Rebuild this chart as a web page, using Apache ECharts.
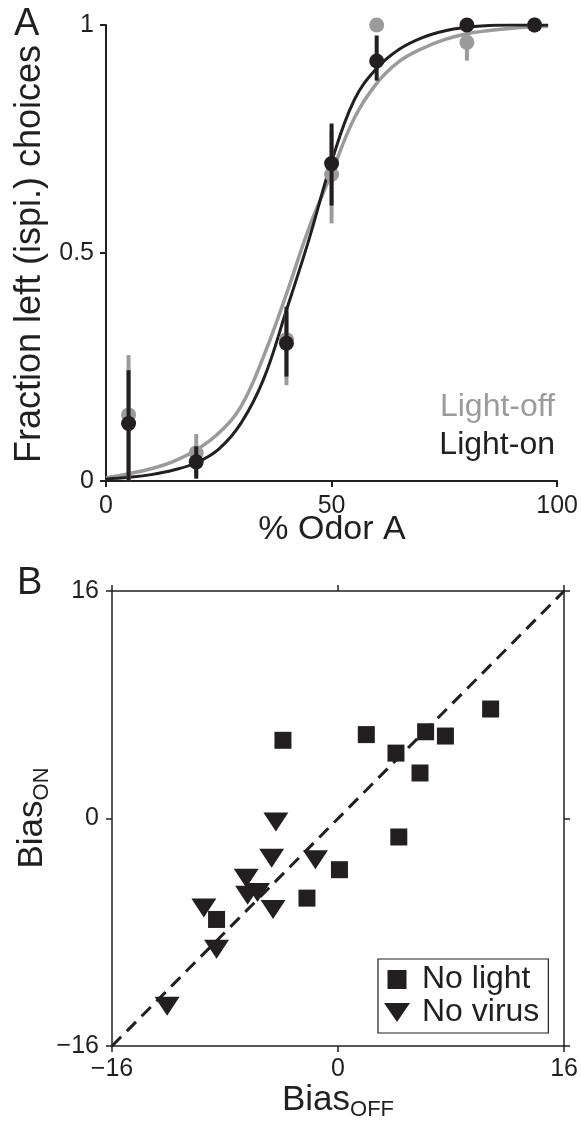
<!DOCTYPE html>
<html>
<head>
<meta charset="utf-8">
<script src="https://cdn.jsdelivr.net/npm/echarts@6/dist/echarts.min.js"></script>
<style>
html,body{margin:0;padding:0;background:#fff;}
#c{width:581px;height:1127px;}
</style>
</head>
<body>
<div id="c"></div>
<script>
// ---------- Panel A data ----------
var odorTicks = [0, 50, 100];
var fracTicks = [0, 0.5, 1];
var odor = [5, 20, 40, 50, 60, 80, 95];
var offMean = [0.145, 0.062, 0.31, 0.672, 1.0, 0.962, 1.0];
var offLow  = [0.0, 0.01, 0.21, 0.565, 1.0, 0.922, 1.0];
var offHigh = [0.276, 0.103, 0.37, 0.77, 1.0, 1.0, 1.0];
var onMean  = [0.126, 0.042, 0.302, 0.696, 0.921, 1.0, 1.0];
var onLow   = [0.0, 0.005, 0.229, 0.604, 0.878, 1.0, 1.0];
var onHigh  = [0.243, 0.076, 0.382, 0.784, 0.977, 1.0, 1.0];
// fitted curves
var curveX   = [0, 5, 10, 15, 20, 25, 30, 35, 40, 45, 50, 55, 60, 65, 70, 75, 80, 85, 90, 95, 98];
var curveOff = [0.007, 0.016, 0.027, 0.043, 0.068, 0.105, 0.165, 0.275, 0.41, 0.555, 0.675, 0.795, 0.872, 0.92, 0.948, 0.968, 0.981, 0.988, 0.993, 0.996, 0.997];
var curveOn  = [0.004, 0.008, 0.014, 0.024, 0.040, 0.070, 0.128, 0.225, 0.375, 0.53, 0.70, 0.835, 0.905, 0.947, 0.972, 0.987, 0.995, 0.999, 1.0, 1.0, 1.0];

// ---------- Panel B data ----------
var biasTicks = [-16, 0, 16];
var noLightX = [-3.9, 2.0, 6.2, 7.6, 10.8, 4.1, 5.8, 4.3, 0.1, -2.2, -8.6];
var noLightY = [5.5, 5.9, 6.1, 5.8, 7.7, 4.6, 3.2, -1.3, -3.6, -5.6, -7.1];
var noVirusX = [-4.4, -4.7, -1.6, -6.5, -5.7, -6.4, -4.6, -9.5, -8.6, -12.1];
var noVirusY = [-0.25, -2.8, -2.9, -4.2, -5.2, -5.4, -6.4, -6.3, -9.2, -13.2];
var unityLine = [-16, 16];

var BLACK = '#231f20';
var GRAY = '#9b9b9b';
var FONT = 'Liberation Sans, Arial, Helvetica, sans-serif';

function zip(a, b) { return a.map(function (v, i) { return [v, b[i]]; }); }
function zip3(a, b, c) { return a.map(function (v, i) { return [v, b[i], c[i]]; }); }
function minusFmt(v) { return v < 0 ? '\u2212' + Math.abs(v) : String(v); }

function errRender(color) {
  return function (params, api) {
    var x = api.value(0), lo = api.value(1), hi = api.value(2);
    var p1 = api.coord([x, lo]), p2 = api.coord([x, hi]);
    return { type: 'line', shape: { x1: p1[0], y1: p1[1], x2: p2[0], y2: p2[1] },
      style: { stroke: color, lineWidth: 4 } };
  };
}

var tickLabel = { fontSize: 25, color: BLACK, fontFamily: FONT };
var triPath = 'path://M0,0H13L6.5,9.5Z';
var sqPath = 'path://M0,0H10V10H0Z';

var chart = echarts.init(document.getElementById('c'), null, { renderer: 'canvas' });
var option = {
  animation: false,
  backgroundColor: '#fff',
  textStyle: { fontFamily: FONT },
  grid: [
    { left: 106, top: 25, width: 453, height: 456 },
    { left: 112, top: 591, width: 453, height: 455 }
  ],
  xAxis: [
    { gridIndex: 0, type: 'value', min: odorTicks[0], max: odorTicks[odorTicks.length - 1], interval: odorTicks[1] - odorTicks[0],
      axisLine: { lineStyle: { color: BLACK, width: 2 } },
      axisTick: { inside: false, length: 6, lineStyle: { color: BLACK, width: 2 } },
      axisLabel: Object.assign({ margin: 13 }, tickLabel), splitLine: { show: false } },
    { gridIndex: 1, type: 'value', position: 'bottom', min: biasTicks[0], max: biasTicks[2], interval: biasTicks[1] - biasTicks[0],
      axisLine: { onZero: false, lineStyle: { color: BLACK, width: 1.5 } },
      axisTick: { length: 6, lineStyle: { color: BLACK, width: 1.5 } },
      axisLabel: Object.assign({ margin: 11, formatter: minusFmt }, tickLabel), splitLine: { show: false } },
    { gridIndex: 1, type: 'value', position: 'top', min: biasTicks[0], max: biasTicks[2], interval: biasTicks[1] - biasTicks[0],
      axisLine: { onZero: false, lineStyle: { color: BLACK, width: 1.5 } },
      axisTick: { length: 6, lineStyle: { color: BLACK, width: 1.5 } },
      axisLabel: { show: false }, splitLine: { show: false } }
  ],
  yAxis: [
    { gridIndex: 0, type: 'value', min: fracTicks[0], max: fracTicks[2], interval: fracTicks[1] - fracTicks[0],
      axisLine: { show: true, lineStyle: { color: BLACK, width: 2 } },
      axisTick: { show: true, length: 6, lineStyle: { color: BLACK, width: 2 } },
      axisLabel: Object.assign({ margin: 12 }, tickLabel), splitLine: { show: false } },
    { gridIndex: 1, type: 'value', position: 'left', min: biasTicks[0], max: biasTicks[2], interval: biasTicks[1] - biasTicks[0],
      axisLine: { show: true, onZero: false, lineStyle: { color: BLACK, width: 1.5 } },
      axisTick: { show: true, length: 6, lineStyle: { color: BLACK, width: 1.5 } },
      axisLabel: Object.assign({ margin: 13, formatter: minusFmt }, tickLabel), splitLine: { show: false } },
    { gridIndex: 1, type: 'value', position: 'right', min: biasTicks[0], max: biasTicks[2], interval: biasTicks[1] - biasTicks[0],
      axisLine: { show: true, onZero: false, lineStyle: { color: BLACK, width: 1.5 } },
      axisTick: { show: true, length: 6, lineStyle: { color: BLACK, width: 1.5 } },
      axisLabel: { show: false }, splitLine: { show: false } }
  ],
  legend: {
    orient: 'vertical', left: 378, top: 959,
    data: [ { name: 'No light', icon: sqPath }, { name: 'No virus', icon: triPath } ],
    itemWidth: 26, itemHeight: 19, itemGap: 0,
    padding: [4, 9, 4, 6],
    borderColor: BLACK, borderWidth: 1.2, backgroundColor: '#fff',
    textStyle: { fontSize: 32, color: BLACK, fontFamily: FONT, lineHeight: 33, padding: [0, 0, 0, 7] },
    selectedMode: false
  },
  series: [
    { name: 'Light-off fit', type: 'line', xAxisIndex: 0, yAxisIndex: 0, data: zip(curveX, curveOff), smooth: 0.4,
      showSymbol: false, lineStyle: { color: GRAY, width: 3.5 }, z: 2 },
    { name: 'Light-on fit', type: 'line', xAxisIndex: 0, yAxisIndex: 0, data: zip(curveX, curveOn), smooth: 0.4,
      showSymbol: false, lineStyle: { color: BLACK, width: 3 }, z: 3 },
    { name: 'offErr', type: 'custom', xAxisIndex: 0, yAxisIndex: 0, data: zip3(odor, offLow, offHigh),
      encode: { x: 0, y: [1, 2] }, renderItem: errRender(GRAY), z: 4 },
    { name: 'Light-off', type: 'scatter', xAxisIndex: 0, yAxisIndex: 0, data: zip(odor, offMean),
      symbol: 'circle', symbolSize: 15, itemStyle: { color: GRAY, opacity: 1 }, z: 5 },
    { name: 'onErr', type: 'custom', xAxisIndex: 0, yAxisIndex: 0, data: zip3(odor, onLow, onHigh),
      encode: { x: 0, y: [1, 2] }, renderItem: errRender(BLACK), z: 6 },
    { name: 'Light-on', type: 'scatter', xAxisIndex: 0, yAxisIndex: 0, data: zip(odor, onMean),
      symbol: 'circle', symbolSize: 15, itemStyle: { color: BLACK, opacity: 1 }, z: 7 },
    { name: 'unity', type: 'line', xAxisIndex: 1, yAxisIndex: 1, data: zip(unityLine, unityLine),
      showSymbol: false, lineStyle: { color: BLACK, width: 3, type: [13, 8] }, z: 2 },
    { name: 'No light', type: 'scatter', xAxisIndex: 1, yAxisIndex: 1, data: zip(noLightX, noLightY),
      symbol: sqPath, symbolSize: 17, itemStyle: { color: BLACK, opacity: 1 }, z: 5 },
    { name: 'No virus', type: 'scatter', xAxisIndex: 1, yAxisIndex: 1, data: zip(noVirusX, noVirusY),
      symbol: triPath, symbolSize: [25, 19], itemStyle: { color: BLACK, opacity: 1 }, z: 5 }
  ],
  graphic: [
    { type: 'text', x: 14, y: 25, style: { text: 'A', fontSize: 38, fontFamily: FONT, fill: BLACK, align: 'left', verticalAlign: 'middle' } },
    { type: 'text', x: 17, y: 584, style: { text: 'B', fontSize: 38, fontFamily: FONT, fill: BLACK, align: 'left', verticalAlign: 'middle' } },
    { type: 'text', x: 30, y: 254, rotation: Math.PI / 2,
      style: { text: 'Fraction left (ispi.) choices', fontSize: 36, fontFamily: FONT, fill: BLACK, align: 'center', verticalAlign: 'middle' } },
    { type: 'text', x: 332, y: 530,
      style: { text: '% Odor A', fontSize: 34, fontFamily: FONT, fill: BLACK, align: 'center', verticalAlign: 'middle' } },
    { type: 'text', x: 555, y: 407,
      style: { text: 'Light-off', fontSize: 32, fontFamily: FONT, fill: GRAY, align: 'right', verticalAlign: 'middle' } },
    { type: 'text', x: 555, y: 445,
      style: { text: 'Light-on', fontSize: 32, fontFamily: FONT, fill: BLACK, align: 'right', verticalAlign: 'middle' } },
    { type: 'text', x: 32, y: 818, rotation: Math.PI / 2,
      style: { text: '{m|Bias}{s|ON}', fontFamily: FONT, fill: BLACK, align: 'center', verticalAlign: 'middle',
        rich: { m: { fontSize: 35, lineHeight: 35, verticalAlign: 'top', fontFamily: FONT, fill: BLACK },
                s: { fontSize: 22, lineHeight: 22, verticalAlign: 'top', padding: [16, 0, 0, 0], fontFamily: FONT, fill: BLACK } } } },
    { type: 'text', x: 338, y: 1100,
      style: { text: '{m|Bias}{s|OFF}', fontFamily: FONT, fill: BLACK, align: 'center', verticalAlign: 'middle',
        rich: { m: { fontSize: 35, lineHeight: 35, verticalAlign: 'top', fontFamily: FONT, fill: BLACK },
                s: { fontSize: 22, lineHeight: 22, verticalAlign: 'top', padding: [16, 0, 0, 0], fontFamily: FONT, fill: BLACK } } } }
  ]
};
chart.setOption(option);
</script>
</body>
</html>
